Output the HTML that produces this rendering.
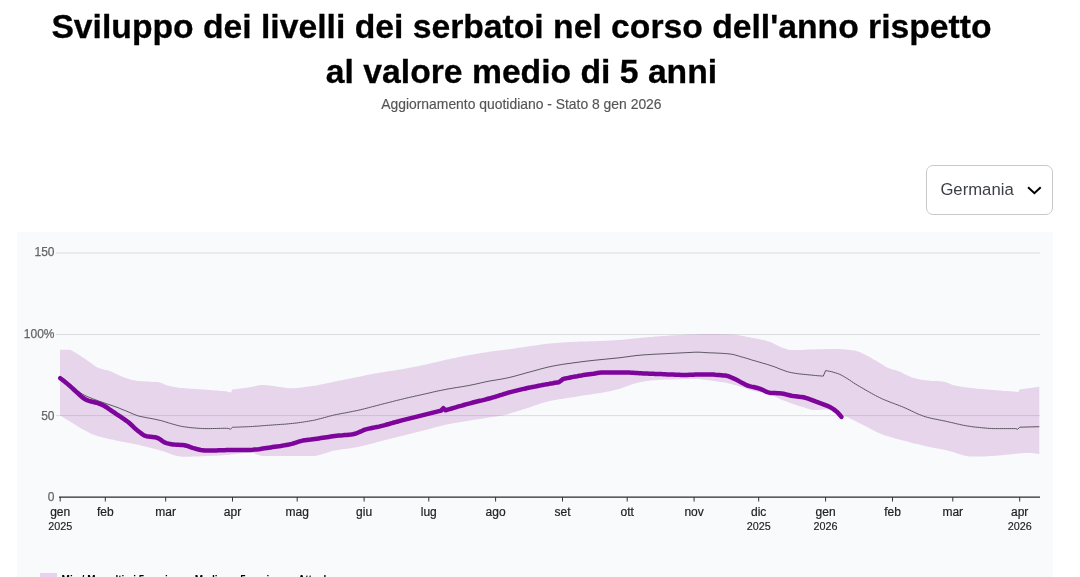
<!DOCTYPE html>
<html lang="it"><head><meta charset="utf-8"><title>Sviluppo dei livelli dei serbatoi</title>
<style>
html,body{margin:0;padding:0;background:#fff;}
body{width:1080px;height:577px;overflow:hidden;position:relative;font-family:"Liberation Sans",sans-serif;}
.page{position:absolute;left:0;top:0;width:1080px;height:577px;overflow:hidden;will-change:transform;}
h1{position:absolute;left:0.5px;top:4.4px;width:1042px;margin:0;text-align:center;font-size:33.7px;line-height:44.8px;font-weight:bold;color:#000;-webkit-text-stroke:0.3px #000;}
.sub{position:absolute;left:0;top:96px;width:1042.8px;text-align:center;font-size:13.9px;line-height:16px;color:#555;-webkit-text-stroke:0.15px #555;}
.sel{position:absolute;left:926px;top:165px;width:125px;height:47.5px;border:1px solid #c9c9c9;border-radius:7px;background:#fff;}
.sel span{position:absolute;left:13.4px;top:14px;font-size:16.7px;line-height:20px;color:#3b3f46;}
.sel svg{position:absolute;left:98.6px;top:18.7px;}
.panel{position:absolute;left:17px;top:232px;width:1036px;height:360px;background:#f9fafb;}
svg.chart{position:absolute;left:0;top:0;}
svg text{font-family:"Liberation Sans",sans-serif;}
.legend{position:absolute;left:0;top:573px;height:20px;font-size:10px;font-weight:bold;color:#000;line-height:12px;}
.legend .sw{position:absolute;top:0;width:17px;height:12px;}
.legend span{position:absolute;top:1.1px;white-space:nowrap;}
</style></head><body><div class="page">
<h1>Sviluppo dei livelli dei serbatoi nel corso dell'anno rispetto<br>al valore medio di 5 anni</h1>
<div class="sub">Aggiornamento quotidiano - Stato 8 gen 2026</div>
<div class="sel"><span>Germania</span><svg width="18" height="12" viewBox="0 0 18 12"><path d="M2.8 2.9 L8.4 8.2 L14.0 2.9" fill="none" stroke="#000" stroke-width="2" stroke-linecap="square" stroke-linejoin="miter"/></svg></div>
<div class="panel"></div>
<svg class="chart" width="1080" height="577" viewBox="0 0 1080 577">
<line x1="56" x2="1040" y1="253" y2="253" stroke="#dcdde1" stroke-width="1"/>
<text x="54.5" y="256.2" text-anchor="end" font-size="12" fill="#666" stroke="#666" stroke-width="0.25">150</text>
<line x1="56" x2="1040" y1="334.5" y2="334.5" stroke="#dcdde1" stroke-width="1"/>
<text x="54.5" y="338.2" text-anchor="end" font-size="12" fill="#666" stroke="#666" stroke-width="0.25">100%</text>
<line x1="56" x2="1040" y1="415.6" y2="415.6" stroke="#dcdde1" stroke-width="1"/>
<text x="54.5" y="419.9" text-anchor="end" font-size="12" fill="#666" stroke="#666" stroke-width="0.25">50</text>
<text x="54.5" y="500.9" text-anchor="end" font-size="12" fill="#666" stroke="#666" stroke-width="0.25">0</text>
<path d="M60.0,349.7 L62.0,349.7 L64.0,349.7 L66.0,349.7 L68.0,349.7 L70.1,349.8 L72.1,350.7 L74.1,352.0 L76.1,353.1 L78.1,354.3 L80.1,355.6 L82.1,356.9 L84.1,358.3 L86.2,359.7 L88.2,361.2 L90.2,362.6 L92.2,364.1 L94.2,365.6 L96.2,366.9 L98.2,367.7 L100.2,368.5 L102.2,369.1 L104.3,369.7 L106.3,370.1 L108.3,370.6 L110.3,371.2 L112.3,372.0 L114.3,372.9 L116.3,373.9 L118.3,374.9 L120.4,375.8 L122.4,376.7 L124.4,377.5 L126.4,378.2 L128.4,378.8 L130.4,379.4 L132.4,379.9 L134.4,380.3 L136.4,380.7 L138.5,381.0 L140.5,381.2 L142.5,381.3 L144.5,381.4 L146.5,381.5 L148.5,381.6 L150.5,381.7 L152.5,381.9 L154.6,382.0 L156.6,382.1 L158.6,382.3 L160.6,382.7 L162.6,383.6 L164.6,384.5 L166.6,385.3 L168.6,385.8 L170.6,386.3 L172.7,386.7 L174.7,387.1 L176.7,387.5 L178.7,387.8 L180.7,388.0 L182.7,388.1 L184.7,388.3 L186.7,388.4 L188.8,388.5 L190.8,388.7 L192.8,388.8 L194.8,388.9 L196.8,389.1 L198.8,389.2 L200.8,389.3 L202.8,389.5 L204.8,389.6 L206.9,389.8 L208.9,389.9 L210.9,390.1 L212.9,390.2 L214.9,390.4 L216.9,390.5 L218.9,390.7 L220.9,390.9 L223.0,391.1 L225.0,391.3 L227.0,391.6 L229.0,391.9 L231.0,392.5 L232.5,389.5 L234.5,389.3 L236.5,389.0 L238.5,388.8 L240.5,388.5 L242.5,388.3 L244.5,388.0 L246.5,387.7 L248.5,387.4 L250.5,387.1 L252.5,386.7 L254.5,386.3 L256.5,385.8 L258.5,385.4 L260.6,385.1 L262.6,385.0 L264.6,385.0 L266.6,385.2 L268.6,385.4 L270.6,385.6 L272.6,385.9 L274.6,386.2 L276.6,386.6 L278.6,386.9 L280.6,387.1 L282.6,387.4 L284.6,387.7 L286.6,388.0 L288.6,388.3 L290.6,388.3 L292.6,388.3 L294.6,388.2 L296.6,388.0 L298.6,387.8 L300.6,387.6 L302.6,387.4 L304.6,387.1 L306.6,386.8 L308.6,386.6 L310.6,386.3 L312.7,386.0 L314.7,385.7 L316.7,385.4 L318.7,385.0 L320.7,384.6 L322.7,384.2 L324.7,383.8 L326.7,383.3 L328.7,382.9 L330.7,382.5 L332.7,382.0 L334.7,381.6 L336.7,381.2 L338.7,380.8 L340.7,380.4 L342.7,380.0 L344.7,379.6 L346.7,379.2 L348.7,378.8 L350.7,378.4 L352.7,378.0 L354.7,377.6 L356.7,377.2 L358.7,376.8 L360.7,376.4 L362.7,376.0 L364.8,375.6 L366.8,375.1 L368.8,374.7 L370.8,374.3 L372.8,373.9 L374.8,373.5 L376.8,373.2 L378.8,372.8 L380.8,372.5 L382.8,372.2 L384.8,371.9 L386.8,371.6 L388.8,371.3 L390.8,371.0 L392.8,370.7 L394.8,370.4 L396.8,370.1 L398.8,369.8 L400.8,369.4 L402.8,369.1 L404.8,368.7 L406.8,368.3 L408.8,368.0 L410.8,367.6 L412.8,367.2 L414.8,366.8 L416.9,366.4 L418.9,365.9 L420.9,365.5 L422.9,365.1 L424.9,364.7 L426.9,364.2 L428.9,363.8 L430.9,363.3 L432.9,362.8 L434.9,362.4 L436.9,361.9 L438.9,361.4 L440.9,360.9 L442.9,360.5 L444.9,360.1 L446.9,359.6 L448.9,359.2 L450.9,358.8 L452.9,358.3 L454.9,357.9 L456.9,357.5 L458.9,357.1 L460.9,356.7 L462.9,356.3 L464.9,355.9 L466.9,355.6 L469.0,355.2 L471.0,354.8 L473.0,354.5 L475.0,354.1 L477.0,353.8 L479.0,353.4 L481.0,353.1 L483.0,352.8 L485.0,352.5 L487.0,352.2 L489.0,351.8 L491.0,351.6 L493.0,351.3 L495.0,351.0 L497.0,350.7 L499.0,350.5 L501.0,350.2 L503.0,350.0 L505.0,349.7 L507.0,349.5 L509.0,349.2 L511.0,348.9 L513.0,348.7 L515.0,348.4 L517.0,348.1 L519.0,347.8 L521.1,347.5 L523.1,347.2 L525.1,346.9 L527.1,346.6 L529.1,346.3 L531.1,346.1 L533.1,345.8 L535.1,345.5 L537.1,345.2 L539.1,344.9 L541.1,344.6 L543.1,344.3 L545.1,344.1 L547.1,343.8 L549.1,343.6 L551.1,343.4 L553.1,343.2 L555.1,343.0 L557.1,342.9 L559.1,342.7 L561.1,342.6 L563.1,342.4 L565.1,342.3 L567.1,342.2 L569.1,342.1 L571.1,342.0 L573.2,341.9 L575.2,341.8 L577.2,341.7 L579.2,341.6 L581.2,341.6 L583.2,341.5 L585.2,341.4 L587.2,341.4 L589.2,341.3 L591.2,341.3 L593.2,341.2 L595.2,341.2 L597.2,341.1 L599.2,341.0 L601.2,340.9 L603.2,340.8 L605.2,340.7 L607.2,340.7 L609.2,340.6 L611.2,340.5 L613.2,340.3 L615.2,340.2 L617.2,340.1 L619.2,340.0 L621.2,339.8 L623.2,339.7 L625.2,339.5 L627.3,339.3 L629.3,339.0 L631.3,338.8 L633.3,338.6 L635.3,338.4 L637.3,338.2 L639.3,338.0 L641.3,337.8 L643.3,337.6 L645.3,337.4 L647.3,337.2 L649.3,337.1 L651.3,336.9 L653.3,336.7 L655.3,336.6 L657.3,336.4 L659.3,336.3 L661.3,336.1 L663.3,336.0 L665.3,335.9 L667.3,335.7 L669.3,335.6 L671.3,335.5 L673.3,335.3 L675.3,335.2 L677.3,335.1 L679.4,335.0 L681.4,334.9 L683.4,334.8 L685.4,334.7 L687.4,334.6 L689.4,334.5 L691.4,334.5 L693.4,334.4 L695.4,334.3 L697.4,334.2 L699.4,334.1 L701.4,334.1 L703.4,334.0 L705.4,334.0 L707.4,334.0 L709.4,334.0 L711.4,334.0 L713.4,334.0 L715.4,334.1 L717.4,334.1 L719.4,334.1 L721.4,334.2 L723.4,334.2 L725.4,334.3 L727.4,334.3 L729.4,334.4 L731.5,334.5 L733.5,334.6 L735.5,334.8 L737.5,335.1 L739.5,335.4 L741.5,335.8 L743.5,336.1 L745.5,336.5 L747.5,336.9 L749.5,337.3 L751.5,337.7 L753.5,338.1 L755.5,338.5 L757.5,338.8 L759.5,339.2 L761.5,339.7 L763.5,340.1 L765.5,340.6 L767.5,341.2 L769.5,341.8 L771.5,342.5 L773.5,343.4 L775.5,344.5 L777.5,345.6 L779.5,346.6 L781.5,347.4 L783.6,348.1 L785.6,348.8 L787.6,349.4 L789.6,349.9 L791.6,350.1 L793.6,350.1 L795.6,350.1 L797.6,350.0 L799.6,350.0 L801.6,349.9 L803.6,349.8 L805.6,349.7 L807.6,349.6 L809.6,349.6 L811.6,349.5 L813.6,349.4 L815.6,349.4 L817.6,349.3 L819.6,349.3 L821.6,349.2 L823.6,349.2 L825.6,349.1 L827.6,349.1 L829.6,349.1 L831.6,349.0 L833.6,349.0 L835.7,349.0 L837.7,349.0 L839.7,349.1 L841.7,349.2 L843.7,349.3 L845.7,349.5 L847.7,349.7 L849.7,349.9 L851.7,350.2 L853.7,350.5 L855.7,350.8 L857.7,351.4 L859.7,352.1 L861.7,353.0 L863.7,353.9 L865.7,354.9 L867.7,356.0 L869.7,357.1 L871.7,358.2 L873.7,359.4 L875.7,360.6 L877.7,361.7 L879.7,362.9 L881.7,364.1 L883.7,365.4 L885.7,366.7 L887.8,367.7 L889.8,368.5 L891.8,369.2 L893.8,369.8 L895.8,370.3 L897.8,371.0 L899.8,371.7 L901.8,372.6 L903.8,373.7 L905.8,374.7 L907.8,375.6 L909.8,376.6 L911.8,377.4 L913.8,378.1 L915.8,378.6 L917.8,379.0 L919.8,379.5 L921.8,379.8 L923.8,380.1 L925.8,380.4 L927.8,380.6 L929.8,380.7 L931.8,380.9 L933.8,380.9 L935.8,381.0 L937.8,381.1 L939.9,381.3 L941.9,381.5 L943.9,381.8 L945.9,382.2 L947.9,382.9 L949.9,383.8 L951.9,384.7 L953.9,385.3 L955.9,385.7 L957.9,386.1 L959.9,386.5 L961.9,386.8 L963.9,387.1 L965.9,387.4 L967.9,387.6 L969.9,387.9 L971.9,388.1 L973.9,388.3 L975.9,388.5 L977.9,388.7 L979.9,388.9 L981.9,389.1 L983.9,389.3 L985.9,389.4 L987.9,389.6 L989.9,389.8 L992.0,390.0 L994.0,390.1 L996.0,390.3 L998.0,390.4 L1000.0,390.6 L1002.0,390.7 L1004.0,390.9 L1006.0,391.0 L1008.0,391.1 L1010.0,391.2 L1012.0,391.4 L1014.0,391.5 L1016.0,391.8 L1018.0,392.2 L1019.8,389.4 L1039.3,386.8 L1039.3,454.1 L1037.3,453.7 L1035.3,453.4 L1033.3,453.2 L1031.3,453.0 L1029.3,452.9 L1027.3,452.9 L1025.3,453.0 L1023.3,453.1 L1021.3,453.3 L1019.3,453.4 L1017.3,453.6 L1015.3,453.8 L1013.3,454.0 L1011.3,454.2 L1009.3,454.4 L1007.3,454.6 L1005.3,454.8 L1003.3,455.0 L1001.2,455.2 L999.2,455.4 L997.2,455.6 L995.2,455.8 L993.2,455.9 L991.2,456.0 L989.2,456.1 L987.2,456.3 L985.2,456.4 L983.2,456.5 L981.2,456.5 L979.2,456.6 L977.2,456.6 L975.2,456.6 L973.2,456.5 L971.2,456.5 L969.2,456.4 L967.2,456.1 L965.2,455.8 L963.2,455.3 L961.2,454.7 L959.2,454.1 L957.2,453.4 L955.2,452.8 L953.2,452.1 L951.2,451.5 L949.2,450.9 L947.2,450.5 L945.2,450.0 L943.2,449.6 L941.2,449.2 L939.2,448.8 L937.2,448.4 L935.2,448.0 L933.2,447.7 L931.2,447.3 L929.2,446.9 L927.2,446.4 L925.1,446.0 L923.1,445.5 L921.1,445.1 L919.1,444.6 L917.1,444.1 L915.1,443.7 L913.1,443.2 L911.1,442.7 L909.1,442.1 L907.1,441.6 L905.1,441.1 L903.1,440.6 L901.1,440.0 L899.1,439.5 L897.1,438.9 L895.1,438.4 L893.1,437.8 L891.1,437.2 L889.1,436.6 L887.1,436.0 L885.1,435.4 L883.1,434.7 L881.1,433.9 L879.1,433.1 L877.1,432.3 L875.1,431.3 L873.1,430.3 L871.1,429.2 L869.1,428.1 L867.1,427.1 L865.1,426.0 L863.1,424.9 L861.1,423.9 L859.1,422.9 L857.1,421.9 L855.1,421.0 L853.1,420.0 L851.1,419.0 L849.0,418.1 L847.0,417.1 L845.0,416.2 L843.0,415.3 L841.0,414.5 L839.0,413.7 L837.0,412.9 L835.0,412.2 L833.0,411.3 L831.0,410.6 L829.0,409.9 L827.0,409.5 L825.0,409.4 L823.0,409.5 L821.0,409.7 L819.0,409.8 L817.0,410.0 L815.0,410.1 L813.0,410.0 L811.0,409.7 L809.0,409.1 L807.0,408.4 L805.0,407.7 L803.0,407.1 L801.0,406.5 L799.0,405.9 L797.0,405.2 L795.0,404.6 L793.0,403.9 L791.0,403.2 L789.0,402.5 L787.0,401.7 L785.0,401.0 L783.0,400.2 L781.0,399.4 L779.0,398.5 L777.0,397.4 L774.9,396.4 L772.9,395.4 L770.9,394.5 L768.9,393.9 L766.9,393.4 L764.9,393.0 L762.9,392.6 L760.9,392.2 L758.9,391.9 L756.9,391.6 L754.9,391.2 L752.9,390.7 L750.9,390.2 L748.9,389.6 L746.9,389.0 L744.9,388.3 L742.9,387.6 L740.9,387.0 L738.9,386.3 L736.9,385.6 L734.9,385.0 L732.9,384.4 L730.9,383.8 L728.9,383.4 L726.9,383.0 L724.9,382.6 L722.9,382.3 L720.9,382.0 L718.9,381.7 L716.9,381.4 L714.9,381.1 L712.9,380.8 L710.9,380.5 L708.9,380.2 L706.9,380.0 L704.9,379.7 L702.9,379.5 L700.9,379.2 L698.8,379.1 L696.8,379.0 L694.8,379.0 L692.8,379.0 L690.8,379.0 L688.8,379.1 L686.8,379.1 L684.8,379.1 L682.8,379.1 L680.8,379.2 L678.8,379.2 L676.8,379.3 L674.8,379.3 L672.8,379.4 L670.8,379.4 L668.8,379.5 L666.8,379.6 L664.8,379.6 L662.8,379.7 L660.8,379.8 L658.8,379.9 L656.8,380.0 L654.8,380.2 L652.8,380.3 L650.8,380.5 L648.8,380.7 L646.8,381.0 L644.8,381.3 L642.8,381.7 L640.8,382.0 L638.8,382.5 L636.8,383.0 L634.8,383.5 L632.8,384.1 L630.8,384.8 L628.8,385.4 L626.8,386.2 L624.7,387.0 L622.7,387.7 L620.7,388.4 L618.7,389.0 L616.7,389.6 L614.7,390.1 L612.7,390.6 L610.7,391.1 L608.7,391.5 L606.7,391.8 L604.7,392.2 L602.7,392.5 L600.7,392.9 L598.7,393.2 L596.7,393.5 L594.7,393.8 L592.7,394.1 L590.7,394.4 L588.7,394.7 L586.7,395.0 L584.7,395.3 L582.7,395.6 L580.7,395.9 L578.7,396.2 L576.7,396.5 L574.7,396.9 L572.7,397.2 L570.7,397.5 L568.7,397.8 L566.7,398.1 L564.7,398.4 L562.7,398.7 L560.7,399.0 L558.7,399.3 L556.7,399.7 L554.7,400.0 L552.7,400.4 L550.7,400.8 L548.6,401.2 L546.6,401.7 L544.6,402.3 L542.6,402.9 L540.6,403.5 L538.6,404.2 L536.6,404.9 L534.6,405.6 L532.6,406.3 L530.6,407.0 L528.6,407.7 L526.6,408.3 L524.6,409.0 L522.6,409.6 L520.6,410.2 L518.6,410.8 L516.6,411.4 L514.6,412.0 L512.6,412.6 L510.6,413.2 L508.6,413.9 L506.6,414.5 L504.6,415.0 L502.6,415.4 L500.6,415.8 L498.6,416.1 L496.6,416.4 L494.6,416.7 L492.6,417.0 L490.6,417.3 L488.6,417.6 L486.6,417.9 L484.6,418.3 L482.6,418.6 L480.6,418.9 L478.6,419.2 L476.6,419.5 L474.6,419.8 L472.5,420.1 L470.5,420.5 L468.5,420.8 L466.5,421.1 L464.5,421.4 L462.5,421.8 L460.5,422.1 L458.5,422.4 L456.5,422.8 L454.5,423.1 L452.5,423.5 L450.5,423.8 L448.5,424.2 L446.5,424.6 L444.5,425.0 L442.5,425.5 L440.5,426.0 L438.5,426.5 L436.5,427.0 L434.5,427.6 L432.5,428.1 L430.5,428.7 L428.5,429.2 L426.5,429.8 L424.5,430.3 L422.5,430.8 L420.5,431.3 L418.5,431.8 L416.5,432.3 L414.5,432.8 L412.5,433.3 L410.5,433.8 L408.5,434.3 L406.5,434.7 L404.5,435.2 L402.5,435.7 L400.5,436.2 L398.4,436.7 L396.4,437.2 L394.4,437.8 L392.4,438.3 L390.4,438.8 L388.4,439.3 L386.4,439.8 L384.4,440.3 L382.4,440.8 L380.4,441.3 L378.4,441.8 L376.4,442.3 L374.4,442.9 L372.4,443.4 L370.4,443.9 L368.4,444.5 L366.4,445.0 L364.4,445.5 L362.4,446.0 L360.4,446.4 L358.4,446.9 L356.4,447.3 L354.4,447.6 L352.4,447.9 L350.4,448.2 L348.4,448.5 L346.4,448.8 L344.4,449.1 L342.4,449.3 L340.4,449.6 L338.4,449.9 L336.4,450.2 L334.4,450.6 L332.4,451.0 L330.4,451.6 L328.4,452.2 L326.4,452.8 L324.4,453.5 L322.3,454.1 L320.3,454.7 L318.3,455.3 L316.3,455.7 L314.3,456.0 L312.3,456.1 L310.3,456.1 L308.3,456.1 L306.3,456.1 L304.3,456.1 L302.3,456.1 L300.3,456.1 L298.3,456.1 L296.3,456.1 L294.3,456.1 L292.3,456.1 L290.3,456.1 L288.3,456.1 L286.3,456.1 L284.3,456.1 L282.3,456.1 L280.3,456.1 L278.3,456.1 L276.3,456.1 L274.3,456.1 L272.3,456.1 L270.3,456.0 L268.3,456.0 L266.3,456.0 L264.3,456.0 L262.3,456.0 L260.3,455.6 L258.3,455.0 L256.3,454.3 L254.3,453.6 L252.3,453.1 L250.3,452.8 L248.2,452.8 L246.2,452.9 L244.2,453.1 L242.2,453.3 L240.2,453.5 L238.2,453.8 L236.2,454.1 L234.2,454.3 L232.2,454.6 L230.2,454.8 L228.2,455.0 L226.2,455.1 L224.2,455.2 L222.2,455.3 L220.2,455.4 L218.2,455.6 L216.2,455.7 L214.2,455.7 L212.2,455.8 L210.2,455.9 L208.2,456.0 L206.2,456.1 L204.2,456.2 L202.2,456.2 L200.2,456.3 L198.2,456.4 L196.2,456.5 L194.2,456.6 L192.2,456.6 L190.2,456.7 L188.2,456.7 L186.2,456.8 L184.2,456.8 L182.2,456.8 L180.2,456.6 L178.2,456.3 L176.2,455.8 L174.2,455.2 L172.1,454.5 L170.1,453.8 L168.1,453.0 L166.1,452.3 L164.1,451.6 L162.1,450.9 L160.1,450.4 L158.1,449.8 L156.1,449.3 L154.1,448.8 L152.1,448.2 L150.1,447.7 L148.1,447.2 L146.1,446.7 L144.1,446.2 L142.1,445.7 L140.1,445.2 L138.1,444.8 L136.1,444.4 L134.1,444.0 L132.1,443.6 L130.1,443.2 L128.1,442.8 L126.1,442.5 L124.1,442.1 L122.1,441.7 L120.1,441.3 L118.1,440.9 L116.1,440.5 L114.1,440.0 L112.1,439.6 L110.1,439.2 L108.1,438.7 L106.1,438.3 L104.1,437.8 L102.1,437.3 L100.1,436.7 L98.1,436.2 L96.0,435.5 L94.0,434.9 L92.0,434.1 L90.0,433.2 L88.0,432.1 L86.0,431.1 L84.0,430.0 L82.0,428.9 L80.0,427.7 L78.0,426.5 L76.0,425.3 L74.0,424.0 L72.0,422.8 L70.0,421.6 L68.0,420.4 L66.0,419.1 L64.0,417.9 L62.0,416.6 L60.0,415.4 Z" fill="#7d089a" fill-opacity="0.15" stroke="none"/>
<path d="M60.0,378.3 L62.0,379.7 L64.0,381.1 L66.0,382.4 L68.0,383.8 L70.0,385.2 L72.0,386.6 L74.0,388.0 L76.0,389.5 L78.0,391.0 L80.0,392.5 L82.1,393.9 L84.1,395.0 L86.1,396.0 L88.1,396.9 L90.1,397.7 L92.1,398.5 L94.1,399.3 L96.1,400.0 L98.1,400.8 L100.1,401.5 L102.1,402.2 L104.1,402.9 L106.1,403.6 L108.1,404.3 L110.1,404.9 L112.1,405.6 L114.1,406.3 L116.1,407.0 L118.1,407.7 L120.1,408.5 L122.1,409.4 L124.2,410.2 L126.2,411.0 L128.2,411.8 L130.2,412.7 L132.2,413.6 L134.2,414.4 L136.2,415.2 L138.2,415.9 L140.2,416.4 L142.2,416.8 L144.2,417.2 L146.2,417.6 L148.2,418.0 L150.2,418.3 L152.2,418.7 L154.2,419.1 L156.2,419.5 L158.2,420.0 L160.2,420.4 L162.2,420.9 L164.2,421.5 L166.2,422.1 L168.3,422.8 L170.3,423.4 L172.3,424.0 L174.3,424.5 L176.3,425.1 L178.3,425.6 L180.3,426.1 L182.3,426.5 L184.3,426.8 L186.3,427.1 L188.3,427.3 L190.3,427.6 L192.3,427.8 L194.3,427.9 L196.3,428.1 L198.3,428.3 L200.3,428.4 L202.3,428.5 L204.3,428.6 L206.3,428.6 L208.3,428.6 L210.4,428.6 L212.4,428.5 L214.4,428.5 L216.4,428.5 L218.4,428.4 L220.4,428.4 L222.4,428.3 L224.4,428.3 L226.4,428.3 L228.4,428.4 L230.4,429.3 L232.5,427.2 L234.5,427.2 L236.5,427.1 L238.5,427.1 L240.5,427.0 L242.5,426.9 L244.5,426.8 L246.5,426.8 L248.5,426.7 L250.5,426.6 L252.5,426.5 L254.5,426.3 L256.5,426.2 L258.5,426.1 L260.5,425.9 L262.5,425.7 L264.5,425.6 L266.5,425.4 L268.5,425.3 L270.6,425.1 L272.6,425.0 L274.6,424.8 L276.6,424.7 L278.6,424.6 L280.6,424.4 L282.6,424.3 L284.6,424.2 L286.6,424.0 L288.6,423.8 L290.6,423.6 L292.6,423.4 L294.6,423.2 L296.6,423.0 L298.6,422.7 L300.6,422.4 L302.6,422.2 L304.6,421.8 L306.6,421.5 L308.6,421.2 L310.6,420.8 L312.6,420.5 L314.6,420.1 L316.6,419.6 L318.6,419.1 L320.6,418.6 L322.6,418.1 L324.6,417.5 L326.6,417.0 L328.6,416.4 L330.6,415.9 L332.6,415.4 L334.6,414.9 L336.6,414.5 L338.6,414.1 L340.6,413.7 L342.6,413.3 L344.7,413.0 L346.7,412.6 L348.7,412.2 L350.7,411.8 L352.7,411.4 L354.7,411.0 L356.7,410.6 L358.7,410.2 L360.7,409.7 L362.7,409.2 L364.7,408.7 L366.7,408.2 L368.7,407.7 L370.7,407.1 L372.7,406.6 L374.7,406.1 L376.7,405.6 L378.7,405.1 L380.7,404.5 L382.7,404.0 L384.7,403.5 L386.7,403.0 L388.7,402.5 L390.7,402.0 L392.7,401.5 L394.7,401.0 L396.7,400.4 L398.7,400.0 L400.7,399.5 L402.7,399.0 L404.7,398.5 L406.7,398.0 L408.7,397.6 L410.7,397.1 L412.7,396.7 L414.7,396.2 L416.7,395.8 L418.8,395.3 L420.8,394.9 L422.8,394.4 L424.8,394.0 L426.8,393.5 L428.8,393.1 L430.8,392.6 L432.8,392.1 L434.8,391.7 L436.8,391.2 L438.8,390.8 L440.8,390.4 L442.8,390.0 L444.8,389.6 L446.8,389.2 L448.8,388.8 L450.8,388.5 L452.8,388.2 L454.8,387.8 L456.8,387.5 L458.8,387.2 L460.8,386.9 L462.8,386.6 L464.8,386.2 L466.8,385.9 L468.8,385.5 L470.8,385.1 L472.8,384.7 L474.8,384.3 L476.8,383.8 L478.8,383.4 L480.8,382.9 L482.8,382.5 L484.8,382.0 L486.8,381.6 L488.8,381.2 L490.8,380.8 L492.9,380.5 L494.9,380.2 L496.9,379.8 L498.9,379.5 L500.9,379.2 L502.9,378.8 L504.9,378.4 L506.9,378.0 L508.9,377.6 L510.9,377.1 L512.9,376.6 L514.9,376.1 L516.9,375.5 L518.9,375.0 L520.9,374.4 L522.9,373.9 L524.9,373.3 L526.9,372.7 L528.9,372.2 L530.9,371.7 L532.9,371.1 L534.9,370.6 L536.9,370.0 L538.9,369.5 L540.9,368.9 L542.9,368.4 L544.9,367.9 L546.9,367.4 L548.9,366.9 L550.9,366.5 L552.9,366.1 L554.9,365.7 L556.9,365.3 L558.9,365.0 L560.9,364.7 L562.9,364.3 L565.0,364.0 L567.0,363.7 L569.0,363.5 L571.0,363.2 L573.0,362.9 L575.0,362.6 L577.0,362.4 L579.0,362.1 L581.0,361.8 L583.0,361.6 L585.0,361.3 L587.0,361.1 L589.0,360.9 L591.0,360.6 L593.0,360.4 L595.0,360.2 L597.0,360.0 L599.0,359.8 L601.0,359.6 L603.0,359.4 L605.0,359.2 L607.0,359.0 L609.0,358.8 L611.0,358.6 L613.0,358.4 L615.0,358.2 L617.0,358.0 L619.0,357.8 L621.0,357.6 L623.0,357.3 L625.0,357.0 L627.0,356.8 L629.0,356.5 L631.0,356.2 L633.0,356.0 L635.0,355.7 L637.0,355.5 L639.1,355.3 L641.1,355.1 L643.1,354.9 L645.1,354.8 L647.1,354.7 L649.1,354.6 L651.1,354.4 L653.1,354.3 L655.1,354.2 L657.1,354.1 L659.1,354.0 L661.1,353.9 L663.1,353.8 L665.1,353.7 L667.1,353.6 L669.1,353.5 L671.1,353.4 L673.1,353.3 L675.1,353.2 L677.1,353.1 L679.1,353.0 L681.1,352.9 L683.1,352.8 L685.1,352.7 L687.1,352.6 L689.1,352.5 L691.1,352.4 L693.1,352.3 L695.1,352.2 L697.1,352.2 L699.1,352.2 L701.1,352.3 L703.1,352.4 L705.1,352.6 L707.1,352.7 L709.1,352.8 L711.1,352.9 L713.2,352.9 L715.2,353.0 L717.2,353.1 L719.2,353.2 L721.2,353.3 L723.2,353.4 L725.2,353.6 L727.2,353.7 L729.2,353.9 L731.2,354.2 L733.2,354.5 L735.2,355.0 L737.2,355.6 L739.2,356.2 L741.2,356.8 L743.2,357.3 L745.2,357.9 L747.2,358.5 L749.2,359.1 L751.2,359.8 L753.2,360.4 L755.2,360.9 L757.2,361.5 L759.2,362.1 L761.2,362.7 L763.2,363.3 L765.2,363.8 L767.2,364.4 L769.2,365.1 L771.2,365.7 L773.2,366.4 L775.2,367.1 L777.2,367.9 L779.2,368.7 L781.2,369.5 L783.2,370.2 L785.2,371.0 L787.3,371.6 L789.3,372.2 L791.3,372.6 L793.3,373.0 L795.3,373.3 L797.3,373.6 L799.3,373.9 L801.3,374.1 L803.3,374.3 L805.3,374.5 L807.3,374.7 L809.3,374.9 L811.3,375.1 L813.3,375.3 L815.3,375.5 L817.3,375.7 L819.3,375.8 L821.3,376.0 L823.3,376.1 L825.6,370.6 L827.6,370.9 L829.6,371.3 L831.6,371.7 L833.6,372.3 L835.6,372.9 L837.6,373.5 L839.6,374.3 L841.6,375.3 L843.6,376.4 L845.6,377.6 L847.6,378.8 L849.6,380.1 L851.6,381.5 L853.6,382.8 L855.6,384.1 L857.6,385.3 L859.6,386.5 L861.6,387.6 L863.6,388.8 L865.6,390.0 L867.6,391.1 L869.6,392.3 L871.6,393.4 L873.6,394.5 L875.6,395.6 L877.6,396.6 L879.6,397.6 L881.6,398.6 L883.6,399.5 L885.6,400.3 L887.6,401.1 L889.6,401.9 L891.6,402.7 L893.6,403.4 L895.6,404.2 L897.6,404.9 L899.6,405.7 L901.6,406.5 L903.6,407.3 L905.6,408.2 L907.6,409.1 L909.6,410.0 L911.6,411.0 L913.6,411.9 L915.6,412.9 L917.6,413.8 L919.6,414.6 L921.6,415.4 L923.6,416.2 L925.6,416.8 L927.6,417.4 L929.6,417.9 L931.6,418.4 L933.6,418.8 L935.6,419.2 L937.6,419.6 L939.6,420.0 L941.6,420.4 L943.6,420.8 L945.6,421.2 L947.6,421.7 L949.6,422.1 L951.6,422.6 L953.6,423.0 L955.6,423.5 L957.6,424.0 L959.6,424.4 L961.6,424.9 L963.6,425.3 L965.6,425.7 L967.6,426.0 L969.6,426.3 L971.6,426.6 L973.6,426.9 L975.6,427.1 L977.6,427.3 L979.6,427.5 L981.6,427.7 L983.6,427.9 L985.6,428.1 L987.6,428.3 L989.6,428.4 L991.6,428.5 L993.6,428.6 L995.6,428.6 L997.6,428.6 L999.6,428.6 L1001.6,428.6 L1003.6,428.6 L1005.6,428.6 L1007.6,428.6 L1009.6,428.6 L1011.6,428.6 L1013.6,428.6 L1015.6,428.6 L1017.6,429.3 L1019.8,427.2 L1039.3,426.7" fill="none" stroke="#5a5560" stroke-width="1" stroke-linejoin="round"/>
<path d="M60.3,378.2 L62.3,379.7 L64.3,381.3 L66.3,382.9 L68.3,384.6 L70.3,386.3 L72.3,388.1 L74.3,390.0 L76.3,391.8 L78.3,393.7 L80.3,395.6 L82.3,397.3 L84.3,398.7 L86.3,399.9 L88.4,400.7 L90.4,401.3 L92.4,401.8 L94.4,402.2 L96.4,402.7 L98.4,403.3 L100.4,404.1 L102.4,405.0 L104.4,406.0 L106.4,407.2 L108.4,408.6 L110.4,410.0 L112.4,411.3 L114.4,412.7 L116.4,414.1 L118.4,415.4 L120.4,416.7 L122.4,418.0 L124.4,419.4 L126.4,420.8 L128.4,422.3 L130.4,424.0 L132.4,425.9 L134.4,427.8 L136.4,429.6 L138.4,431.3 L140.4,432.8 L142.5,434.4 L144.5,435.6 L146.5,436.2 L148.5,436.6 L150.5,436.8 L152.5,437.0 L154.5,437.3 L156.5,437.6 L158.5,438.4 L160.5,439.7 L162.5,441.1 L164.5,442.4 L166.5,443.1 L168.5,443.6 L170.5,444.1 L172.5,444.4 L174.5,444.6 L176.5,444.7 L178.5,444.8 L180.5,444.9 L182.5,445.0 L184.5,445.2 L186.5,445.7 L188.5,446.4 L190.5,447.2 L192.5,447.9 L194.5,448.4 L196.6,449.0 L198.6,449.5 L200.6,450.0 L202.6,450.3 L204.6,450.6 L206.6,450.6 L208.6,450.6 L210.6,450.5 L212.6,450.5 L214.6,450.4 L216.6,450.4 L218.6,450.3 L220.6,450.3 L222.6,450.2 L224.6,450.2 L226.6,450.1 L228.6,450.1 L230.6,450.1 L232.6,450.1 L234.6,450.0 L236.6,450.0 L238.6,450.0 L240.6,450.0 L242.6,450.0 L244.6,450.0 L246.6,449.9 L248.6,449.9 L250.6,449.9 L252.7,449.8 L254.7,449.6 L256.7,449.4 L258.7,449.2 L260.7,448.9 L262.7,448.6 L264.7,448.3 L266.7,448.0 L268.7,447.7 L270.7,447.4 L272.7,447.1 L274.7,446.8 L276.7,446.5 L278.7,446.3 L280.7,446.0 L282.7,445.6 L284.7,445.3 L286.7,444.9 L288.7,444.6 L290.7,444.1 L292.7,443.6 L294.7,443.0 L296.7,442.3 L298.7,441.7 L300.7,441.1 L302.7,440.6 L304.7,440.3 L306.8,440.0 L308.8,439.8 L310.8,439.6 L312.8,439.3 L314.8,439.0 L316.8,438.7 L318.8,438.4 L320.8,438.1 L322.8,437.8 L324.8,437.5 L326.8,437.2 L328.8,436.9 L330.8,436.6 L332.8,436.3 L334.8,436.0 L336.8,435.8 L338.8,435.6 L340.8,435.4 L342.8,435.3 L344.8,435.1 L346.8,434.9 L348.8,434.7 L350.8,434.5 L352.8,434.2 L354.8,433.8 L356.8,433.2 L358.8,432.3 L360.9,431.4 L362.9,430.4 L364.9,429.6 L366.9,429.1 L368.9,428.6 L370.9,428.2 L372.9,427.8 L374.9,427.4 L376.9,427.0 L378.9,426.6 L380.9,426.1 L382.9,425.6 L384.9,425.1 L386.9,424.5 L388.9,424.0 L390.9,423.4 L392.9,422.8 L394.9,422.3 L396.9,421.7 L398.9,421.2 L400.9,420.6 L402.9,420.1 L404.9,419.6 L406.9,419.1 L408.9,418.6 L410.9,418.1 L412.9,417.6 L415.0,417.1 L417.0,416.6 L419.0,416.1 L421.0,415.6 L423.0,415.1 L425.0,414.6 L427.0,414.1 L429.0,413.6 L431.0,413.1 L433.0,412.6 L435.0,412.1 L437.0,411.6 L439.0,411.1 L441.0,410.6 L443.3,408.2 L445.6,410.3 L447.6,409.7 L449.6,409.1 L451.7,408.5 L453.7,407.9 L455.7,407.3 L457.7,406.7 L459.8,406.1 L461.8,405.6 L463.8,405.0 L465.8,404.4 L467.9,403.9 L469.9,403.4 L471.9,402.8 L473.9,402.3 L475.9,401.8 L478.0,401.3 L480.0,400.8 L482.0,400.4 L484.0,399.9 L486.1,399.3 L488.1,398.8 L490.1,398.3 L492.1,397.7 L494.2,397.1 L496.2,396.5 L498.2,395.8 L500.2,395.2 L502.2,394.6 L504.3,393.9 L506.3,393.3 L508.3,392.7 L510.3,392.1 L512.4,391.6 L514.4,391.1 L516.4,390.6 L518.4,390.1 L520.5,389.6 L522.5,389.1 L524.5,388.7 L526.5,388.2 L528.6,387.8 L530.6,387.4 L532.6,387.0 L534.6,386.6 L536.6,386.2 L538.7,385.8 L540.7,385.4 L542.7,385.0 L544.7,384.6 L546.8,384.2 L548.8,383.9 L550.8,383.5 L552.8,383.2 L554.9,382.8 L556.9,382.5 L558.9,382.2 L563.3,378.9 L565.3,378.5 L567.3,378.1 L569.3,377.7 L571.3,377.3 L573.3,376.9 L575.3,376.5 L577.3,376.2 L579.3,375.8 L581.3,375.5 L583.3,375.1 L585.3,374.8 L587.3,374.5 L589.3,374.2 L591.3,373.9 L593.3,373.7 L595.3,373.4 L597.3,373.1 L599.3,372.8 L601.3,372.6 L603.3,372.5 L605.3,372.4 L607.3,372.4 L609.3,372.4 L611.3,372.4 L613.3,372.4 L615.3,372.4 L617.3,372.4 L619.3,372.4 L621.3,372.4 L623.3,372.4 L625.3,372.4 L627.3,372.5 L629.3,372.6 L631.3,372.7 L633.3,372.8 L635.3,373.0 L637.3,373.1 L639.3,373.2 L641.3,373.3 L643.3,373.4 L645.3,373.5 L647.3,373.6 L649.3,373.7 L651.3,373.7 L653.3,373.8 L655.3,373.9 L657.3,374.0 L659.3,374.1 L661.3,374.1 L663.3,374.2 L665.3,374.3 L667.3,374.4 L669.3,374.4 L671.3,374.5 L673.3,374.6 L675.3,374.7 L677.3,374.8 L679.3,374.8 L681.3,374.9 L683.3,374.9 L685.3,374.9 L687.3,374.9 L689.3,374.8 L691.3,374.8 L693.3,374.7 L695.3,374.6 L697.3,374.5 L699.3,374.5 L701.3,374.4 L703.4,374.4 L705.4,374.4 L707.4,374.4 L709.4,374.5 L711.4,374.6 L713.4,374.6 L715.4,374.8 L717.4,374.9 L719.4,375.0 L721.4,375.2 L723.4,375.4 L725.4,375.6 L727.4,375.9 L729.4,376.6 L731.4,377.5 L733.4,378.4 L735.4,379.3 L737.4,380.3 L739.4,381.4 L741.4,382.6 L743.4,383.6 L745.4,384.6 L747.4,385.5 L749.4,386.1 L751.4,386.6 L753.4,387.0 L755.4,387.5 L757.4,388.0 L759.4,388.6 L761.4,389.4 L763.4,390.3 L765.4,391.3 L767.4,392.1 L769.4,392.7 L771.4,392.9 L773.4,393.0 L775.4,393.1 L777.4,393.2 L779.4,393.3 L781.4,393.4 L783.4,393.8 L785.4,394.2 L787.4,394.8 L789.4,395.3 L791.4,395.8 L793.4,396.1 L795.4,396.3 L797.4,396.5 L799.4,396.8 L801.4,397.0 L803.4,397.3 L805.4,397.8 L807.4,398.4 L809.4,399.1 L811.4,399.8 L813.4,400.6 L815.4,401.4 L817.4,402.1 L819.4,402.9 L821.4,403.6 L823.4,404.3 L825.4,405.1 L827.4,405.9 L829.4,406.8 L831.4,407.9 L833.4,409.1 L835.4,410.6 L837.4,412.3 L839.4,414.5 L841.4,416.9" fill="none" stroke="#7d059b" stroke-width="4.5" stroke-linecap="round" stroke-linejoin="round"/>
<line x1="59" x2="1040" y1="497.2" y2="497.2" stroke="#2a2a2a" stroke-width="1.3"/>
<line x1="60.2" x2="60.2" y1="497" y2="501.5" stroke="#333" stroke-width="1"/>
<text x="60.2" y="515.5" text-anchor="middle" font-size="12" fill="#222" stroke="#222" stroke-width="0.2">gen</text>
<text x="60.2" y="530" text-anchor="middle" font-size="10.8" fill="#222" stroke="#222" stroke-width="0.15">2025</text>
<line x1="105.3" x2="105.3" y1="497" y2="501.5" stroke="#333" stroke-width="1"/>
<text x="105.3" y="515.5" text-anchor="middle" font-size="12" fill="#222" stroke="#222" stroke-width="0.2">feb</text>
<line x1="165.7" x2="165.7" y1="497" y2="501.5" stroke="#333" stroke-width="1"/>
<text x="165.7" y="515.5" text-anchor="middle" font-size="12" fill="#222" stroke="#222" stroke-width="0.2">mar</text>
<line x1="232.5" x2="232.5" y1="497" y2="501.5" stroke="#333" stroke-width="1"/>
<text x="232.5" y="515.5" text-anchor="middle" font-size="12" fill="#222" stroke="#222" stroke-width="0.2">apr</text>
<line x1="297.2" x2="297.2" y1="497" y2="501.5" stroke="#333" stroke-width="1"/>
<text x="297.2" y="515.5" text-anchor="middle" font-size="12" fill="#222" stroke="#222" stroke-width="0.2">mag</text>
<line x1="364.1" x2="364.1" y1="497" y2="501.5" stroke="#333" stroke-width="1"/>
<text x="364.1" y="515.5" text-anchor="middle" font-size="12" fill="#222" stroke="#222" stroke-width="0.2">giu</text>
<line x1="428.8" x2="428.8" y1="497" y2="501.5" stroke="#333" stroke-width="1"/>
<text x="428.8" y="515.5" text-anchor="middle" font-size="12" fill="#222" stroke="#222" stroke-width="0.2">lug</text>
<line x1="495.6" x2="495.6" y1="497" y2="501.5" stroke="#333" stroke-width="1"/>
<text x="495.6" y="515.5" text-anchor="middle" font-size="12" fill="#222" stroke="#222" stroke-width="0.2">ago</text>
<line x1="562.5" x2="562.5" y1="497" y2="501.5" stroke="#333" stroke-width="1"/>
<text x="562.5" y="515.5" text-anchor="middle" font-size="12" fill="#222" stroke="#222" stroke-width="0.2">set</text>
<line x1="627.2" x2="627.2" y1="497" y2="501.5" stroke="#333" stroke-width="1"/>
<text x="627.2" y="515.5" text-anchor="middle" font-size="12" fill="#222" stroke="#222" stroke-width="0.2">ott</text>
<line x1="694.1" x2="694.1" y1="497" y2="501.5" stroke="#333" stroke-width="1"/>
<text x="694.1" y="515.5" text-anchor="middle" font-size="12" fill="#222" stroke="#222" stroke-width="0.2">nov</text>
<line x1="758.7" x2="758.7" y1="497" y2="501.5" stroke="#333" stroke-width="1"/>
<text x="758.7" y="515.5" text-anchor="middle" font-size="12" fill="#222" stroke="#222" stroke-width="0.2">dic</text>
<text x="758.7" y="530" text-anchor="middle" font-size="10.8" fill="#222" stroke="#222" stroke-width="0.15">2025</text>
<line x1="825.6" x2="825.6" y1="497" y2="501.5" stroke="#333" stroke-width="1"/>
<text x="825.6" y="515.5" text-anchor="middle" font-size="12" fill="#222" stroke="#222" stroke-width="0.2">gen</text>
<text x="825.6" y="530" text-anchor="middle" font-size="10.8" fill="#222" stroke="#222" stroke-width="0.15">2026</text>
<line x1="892.5" x2="892.5" y1="497" y2="501.5" stroke="#333" stroke-width="1"/>
<text x="892.5" y="515.5" text-anchor="middle" font-size="12" fill="#222" stroke="#222" stroke-width="0.2">feb</text>
<line x1="952.8" x2="952.8" y1="497" y2="501.5" stroke="#333" stroke-width="1"/>
<text x="952.8" y="515.5" text-anchor="middle" font-size="12" fill="#222" stroke="#222" stroke-width="0.2">mar</text>
<line x1="1019.7" x2="1019.7" y1="497" y2="501.5" stroke="#333" stroke-width="1"/>
<text x="1019.7" y="515.5" text-anchor="middle" font-size="12" fill="#222" stroke="#222" stroke-width="0.2">apr</text>
<text x="1019.7" y="530" text-anchor="middle" font-size="10.8" fill="#222" stroke="#222" stroke-width="0.15">2026</text>
</svg>
<div class="legend">
<div class="sw" style="left:40px;background:#e5d4eb"></div><span style="left:61.6px">Min / Max ultimi 5 anni</span>
<div class="sw" style="left:173px"><svg width="17" height="12"><line x1="0" x2="17" y1="7" y2="7" stroke="#4f4753" stroke-width="1.1"/></svg></div><span style="left:194.8px">Media su 5 anni</span>
<div class="sw" style="left:276px"><svg width="17" height="12"><line x1="0" x2="17" y1="7" y2="7" stroke="#7d059b" stroke-width="4.5"/></svg></div><span style="left:298px">Attuale</span>
</div>
</div></body></html>
